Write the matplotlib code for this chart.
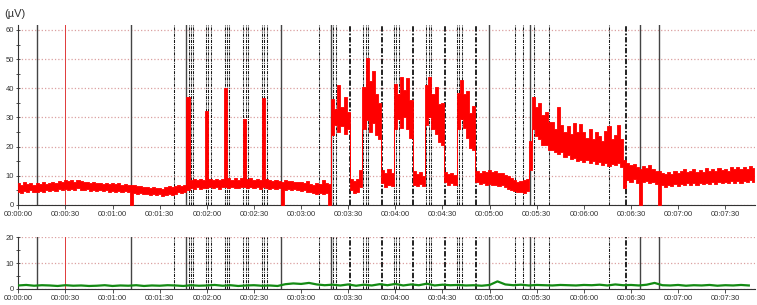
import numpy as np
import matplotlib
matplotlib.use("Agg")
import matplotlib.pyplot as plt
from matplotlib.ticker import MultipleLocator, FuncFormatter

plt.rcParams['font.family'] = ['Liberation Sans', 'DejaVu Sans']

# EMG envelope (top), one sample every 2 s: lower and upper edge of the trace, µV
emg_step = 2
emg_lo = [
    4.6, 4.2, 4.8, 4.4, 5.0, 4.5, 4.3, 4.9, 4.6, 5.1,
    4.8, 5.2, 4.9, 5.4, 5.0, 5.6, 5.1, 5.5, 5.2, 5.7,
    5.3, 5.0, 5.4, 4.9, 5.2, 4.8, 5.1, 4.7, 5.0, 4.6,
    4.9, 4.5, 4.8, 4.4, 4.7, 4.3, 0.0, 4.2, 3.8, 4.0,
    3.6, 3.9, 3.4, 3.7, 3.3, 3.6, 3.2, 3.5, 3.8, 3.4,
    3.9, 4.3, 4.0, 4.5, 5.0, 5.8, 5.5, 6.0, 5.6, 5.9,
    5.8, 6.2, 5.7, 6.1, 5.6, 6.0, 6.3, 5.9, 6.2, 5.8,
    5.9, 6.3, 6.0, 5.7, 6.2, 5.8, 6.1, 5.6, 6.0, 5.7,
    5.5, 5.9, 5.4, 5.7, 0.0, 5.3, 5.6, 5.1, 5.4, 5.0,
    4.8, 5.2, 4.6, 4.3, 4.0, 3.8, 4.1, 3.7, 4.0, 0.0,
    24.0, 27.5, 25.0, 27.0, 24.5, 26.0, 5.0, 4.2, 4.6, 6.0,
    26.0, 29.0, 25.0, 28.0, 24.0, 22.5, 7.5, 6.3, 7.0, 6.5,
    26.0, 29.5, 26.5, 30.0, 26.0, 23.0, 7.0, 6.5, 7.2, 6.6,
    27.5, 30.0, 26.0, 24.5, 21.5, 20.5, 7.8, 6.9, 7.5, 6.8,
    26.0, 29.5, 26.5, 23.0, 19.5, 18.9, 8.0, 7.2, 7.6, 7.0,
    7.3, 6.8, 7.0, 6.4, 6.7, 6.0, 5.6, 5.2, 4.8, 4.3,
    4.5, 4.0, 4.7, 12.0, 26.0, 23.5, 22.5, 20.5, 20.5, 19.0,
    19.0, 18.0, 17.5, 18.0, 16.5, 17.0, 15.8, 16.2, 15.0, 15.5,
    14.8, 15.5, 14.5, 15.2, 14.0, 14.8, 13.8, 14.5, 13.5, 14.2,
    13.8, 14.5, 13.0, 5.8, 8.5, 7.8, 8.8, 7.5, 0.0, 7.8,
    8.2, 7.4, 8.0, 7.2, 0.0, 6.8, 6.3, 7.0, 6.5, 7.1,
    6.6, 7.2, 6.8, 7.4, 6.9, 7.5, 7.0, 7.6, 7.1, 7.7,
    7.2, 7.8, 7.3, 7.9, 7.4, 8.0, 7.5, 8.1, 7.6, 8.2,
    7.7, 8.3, 7.8, 8.4, 7.9,
]
emg_hi = [
    7.4, 7.0, 7.8, 7.2, 7.5, 6.9, 7.6, 7.3, 7.9, 7.1,
    7.6, 8.0, 7.5, 8.3, 7.8, 8.6, 8.1, 8.4, 7.9, 8.5,
    8.2, 7.8, 8.0, 7.6, 7.9, 7.4, 7.7, 7.3, 7.6, 7.2,
    7.5, 7.1, 7.4, 7.0, 7.3, 6.9, 7.0, 6.8, 6.4, 6.6,
    6.3, 6.0, 5.8, 6.2, 5.7, 5.9, 5.6, 6.1, 6.4, 6.0,
    6.5, 6.8, 6.4, 7.0, 37.0, 8.6, 8.9, 8.4, 8.8, 8.5,
    32.3, 8.9, 8.5, 9.0, 8.4, 8.8, 40.0, 9.2, 8.7, 9.3,
    8.6, 9.1, 29.5, 8.8, 9.4, 8.7, 9.0, 8.5, 36.6, 8.9,
    8.6, 8.3, 8.7, 8.2, 8.0, 8.4, 8.1, 8.3, 7.8, 8.0,
    7.9, 7.5, 8.2, 7.3, 7.0, 7.4, 7.1, 8.4, 7.6, 7.2,
    36.5, 33.0, 41.0, 33.5, 37.0, 32.0, 9.0, 8.2, 9.0, 12.0,
    40.5, 50.3, 42.5, 46.0, 38.0, 35.0, 12.0, 11.0, 12.2, 10.8,
    41.5, 38.0, 44.0, 39.5, 43.5, 36.0, 11.5, 10.5, 11.2, 10.0,
    41.0, 43.8, 38.0, 40.5, 34.5, 35.0, 11.4, 10.6, 11.0, 10.2,
    38.5, 42.9, 38.0, 39.0, 31.5, 34.0, 11.5, 11.0, 11.8, 11.2,
    12.0, 11.3, 11.6, 10.8, 11.0, 10.2, 9.8, 9.1, 8.4, 8.0,
    8.2, 8.5, 9.0, 22.0, 37.1, 33.5, 35.0, 31.0, 32.0, 28.5,
    28.5, 26.0, 33.6, 27.5, 25.0, 27.0, 24.5, 28.2, 25.0, 27.8,
    25.0, 23.0, 26.0, 22.5, 25.0, 23.5, 22.0, 25.5, 27.0, 22.5,
    24.0, 27.5, 22.5, 15.5, 14.5, 13.8, 14.2, 13.0, 12.5, 13.5,
    12.8, 13.6, 12.4, 11.8, 11.5, 11.0, 10.5, 11.2, 10.6, 11.5,
    10.9, 11.6, 12.3, 11.2, 11.8, 12.5, 11.4, 12.0, 11.3, 12.6,
    11.8, 12.2, 11.5, 12.8, 12.0, 12.5, 11.7, 13.0, 12.2, 12.9,
    12.3, 13.1, 12.4, 13.2, 12.6,
]

# second channel (bottom), one sample every 5 s, µV
ch2_step = 5
ch2_val = [
    1.2, 1.4, 1.1, 1.3, 1.2, 1.0, 1.3, 1.1, 1.2, 1.0,
    1.1, 1.3, 1.0, 1.2, 1.1, 1.3, 1.0, 1.2, 1.1, 1.3,
    1.2, 1.0, 1.3, 1.1, 1.2, 1.4, 1.1, 1.3, 1.0, 1.2,
    1.3, 1.1, 1.2, 1.0, 1.7, 2.0, 1.8, 2.2, 1.6, 1.3,
    1.5, 1.2, 1.6, 1.1, 1.5, 1.2, 1.7, 1.3, 1.8, 1.2,
    1.6, 1.3, 1.9, 1.2, 1.5, 1.3, 1.4, 1.2, 1.3, 1.1,
    1.4, 2.8, 1.6, 1.3, 1.5, 1.2, 1.4, 1.3, 1.2, 1.4,
    1.3, 1.2, 1.4, 1.3, 1.5, 1.2, 1.6, 1.3, 1.4, 1.2,
    1.5, 2.2, 1.3, 1.2, 1.4, 1.1, 1.3, 1.2, 1.4, 1.1,
    1.3, 1.2, 1.4, 1.2,
]

# event markers (seconds)
solid_marks = [12, 72, 107, 167.5, 199, 299.3, 325.8, 395.9, 408]
red_marks = [30]
dashdot_marks = [99.1, 108.5, 110.0, 111.5, 119.6, 121.0, 122.4,
                 131.4, 132.8, 134.2, 143.3, 144.8, 146.3, 155.2, 156.7, 158.2,
                 191.7, 200.6, 202.3, 219.7, 221.2, 222.7, 239.2, 240.7, 242.3,
                 259.6, 261.1, 262.6, 279.2, 280.8, 282.3,
                 316.3, 321.2, 328.1, 338.1, 376.1]
bold_marks = [211.2, 231.4, 251.5, 271.3, 291.4, 386.7]

x_max = 469


def hms(v, pos):
    v = int(round(v))
    return "%02d:%02d:%02d" % (v // 3600, (v % 3600) // 60, v % 60)


def style_axes(ax, ymax, ystep):
    ax.set_xlim(0, x_max)
    ax.set_ylim(0, ymax)
    for s in ['top', 'right']:
        ax.spines[s].set_visible(False)
    for s in ['left', 'bottom']:
        ax.spines[s].set_linewidth(0.8)
        ax.spines[s].set_color('#333333')
    ax.xaxis.set_major_locator(MultipleLocator(30))
    ax.xaxis.set_major_formatter(FuncFormatter(hms))
    ax.yaxis.set_major_locator(MultipleLocator(ystep))
    ax.yaxis.set_minor_locator(MultipleLocator(ystep / 2))
    ax.tick_params(axis='both', which='major', labelsize=5.5, length=3,
                   width=0.6, pad=1.5, colors='#333333')
    ax.tick_params(axis='y', which='both', direction='inout')
    ax.tick_params(axis='y', which='minor', length=3, width=0.6, colors='#333333')
    ax.grid(axis='y', which='major', color='#dba0a0', linestyle=':', linewidth=0.9)
    ax.set_axisbelow(True)
    for m in solid_marks:
        ax.axvline(m, color='#444444', lw=1.0, zorder=1)
    for m in red_marks:
        ax.axvline(m, color='#e03a3a', lw=0.7, zorder=1)
    for m in dashdot_marks:
        ax.axvline(m, color='#1a1a1a', lw=0.75, ls=(0, (3, 1, 1, 1)), zorder=1)
    for m in bold_marks:
        ax.axvline(m, color='#111111', lw=1.3, ls=(0, (3, 1, 1, 1)), zorder=1)


fig = plt.figure(figsize=(7.57, 3.05), dpi=100)
ax1 = fig.add_axes([0.0242, 0.328, 0.9733, 0.590])
ax2 = fig.add_axes([0.0242, 0.054, 0.9733, 0.169])

style_axes(ax1, 61.7, 10)
style_axes(ax2, 20.2, 10)

t1 = np.arange(len(emg_lo)) * emg_step
ax1.fill_between(t1, emg_lo, emg_hi, step='mid', color='#ff0000', lw=0.6,
                 edgecolor='#ff0000', zorder=3)

t2 = np.arange(len(ch2_val)) * ch2_step
ax2.plot(t2, ch2_val, color='#138a13', lw=1.6, zorder=3)

fig.text(0.005, 0.955, "(µV)", fontsize=8, color='#333333', va='center')

fig.savefig("out.png", dpi=100)
